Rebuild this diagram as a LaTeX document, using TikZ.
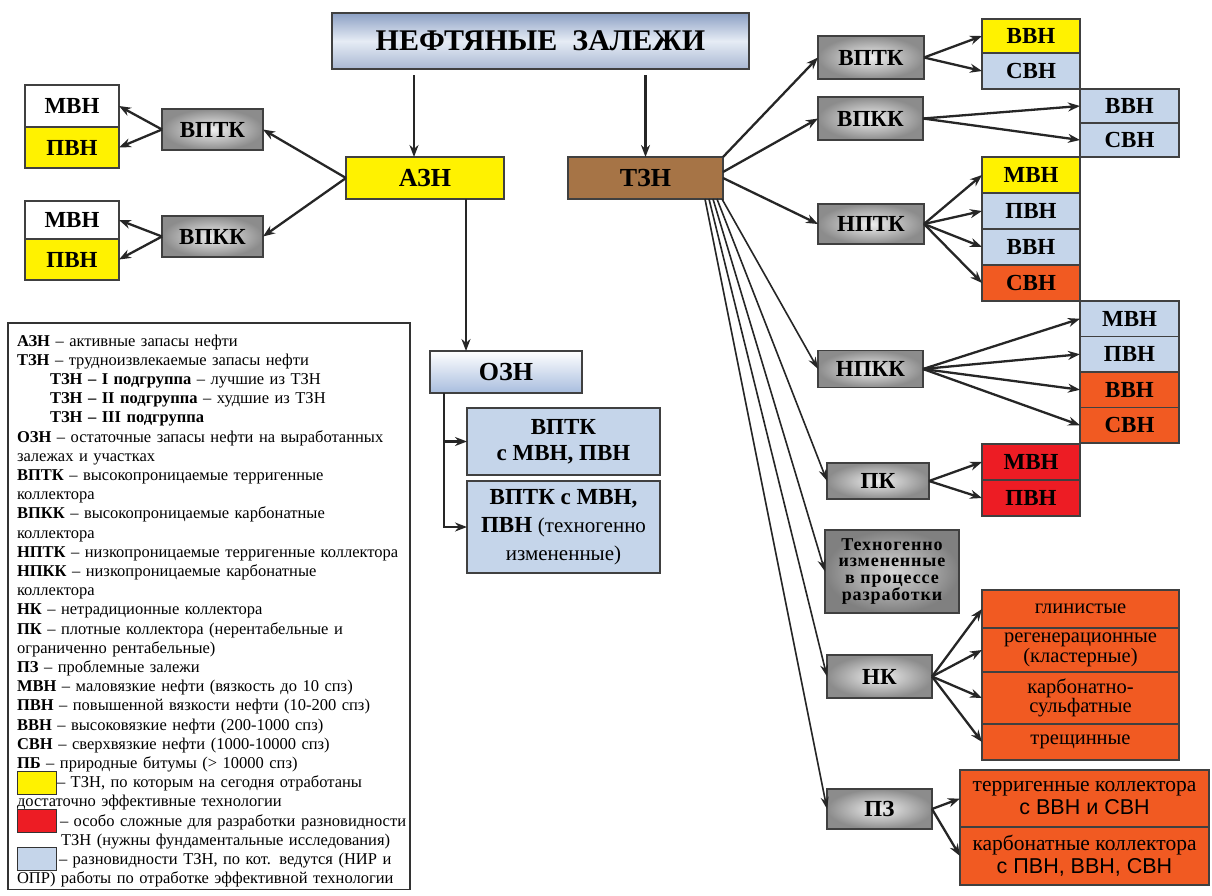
\documentclass[tikz,border=0pt]{standalone}
\usepackage{fontspec}
\setmainfont{Liberation Serif}
\newfontfamily\arialfont{Liberation Sans}
\usepackage{xcolor}
\usetikzlibrary{shapes,arrows.meta,positioning,calc}

\definecolor{azyellow}{RGB}{255,242,0}
\definecolor{tzblue}{RGB}{197,213,234}
\definecolor{tzorange}{RGB}{241,90,34}
\definecolor{tzred}{RGB}{237,28,36}
\definecolor{tzbrown}{RGB}{166,116,70}
\definecolor{titletop}{RGB}{140,160,196}
\definecolor{titlemid}{RGB}{230,236,245}
\definecolor{oznbottom}{RGB}{168,189,222}

\newcommand{\swatch}[1]{\raisebox{-6pt}[0pt][0pt]{\setlength\fboxsep{0pt}\setlength\fboxrule{1pt}\fcolorbox{black!80}{#1}{\rule{0pt}{22pt}\hspace{38pt}}}}

\begin{document}
\begin{tikzpicture}[x=1pt, y=-1pt,
    every node/.style={inner sep=0pt, outer sep=0pt, align=center},
    cell/.style={draw=black!75, line width=1.3pt, font=\bfseries\fontsize{23}{25}\selectfont},
    sz/.style 2 args={minimum width=#1pt, minimum height=#2pt},
    gbox/.style={cell, inner color=white!94!black, outer color=black!45},
    txt/.style={font=\fontsize{20.5}{17.5}\selectfont},
    arr/.style={-{Stealth[length=12pt,width=9pt]}, line width=2.3pt, black!85},
    fan/.style={-{Stealth[length=12pt,width=8pt]}, line width=1.6pt, black!85}]
\path[fill=white, use as bounding box] (0,0) rectangle (1212,895);

\node[cell, sz={417}{56}, top color=titletop, bottom color=titletop!75!white, middle color=titlemid, font=\bfseries\fontsize{30}{32}\selectfont] (title) at (540.5,41) {НЕФТЯНЫЕ\ \ ЗАЛЕЖИ};
\node[cell, sz={158}{42}, fill=azyellow, font=\bfseries\fontsize{26}{28}\selectfont] (azn) at (425,178) {АЗН};
\node[cell, sz={155}{42}, fill=tzbrown, font=\bfseries\fontsize{26}{28}\selectfont] (tzn) at (645.5,178) {ТЗН};
\node[cell, sz={152}{42}, top color=white, bottom color=oznbottom, font=\bfseries\fontsize{26}{28}\selectfont] (ozn) at (506,372) {ОЗН};
\node[cell, sz={193}{67}, fill=tzblue, font=\bfseries\fontsize{23}{26}\selectfont] (oznA) at (563.5,441.5) {ВПТК\\с МВН, ПВН};
\node[cell, sz={193}{92}, fill=tzblue, below=6pt of oznA, font=\bfseries\fontsize{23}{28}\selectfont] (oznB) {ВПТК с МВН,\\ПВН {\mdseries\fontsize{21}{28}\selectfont(техногенно}\\{\mdseries\fontsize{21}{28}\selectfont измененные)}};

\node[gbox, sz={101}{41}] (lvptk) at (212.5,129.5) {ВПТК};
\node[gbox, sz={101}{41}] (lvpkk) at (212.5,236.5) {ВПКК};
\node[cell, sz={94}{42}, fill=white] (lmvnA) at (72,106) {МВН};
\node[cell, sz={94}{41}, fill=azyellow, below=0pt of lmvnA] (lpvnA) {ПВН};
\node[cell, sz={94}{38}, fill=white] (lmvnB) at (72,220) {МВН};
\node[cell, sz={94}{41}, fill=azyellow, below=0pt of lmvnB] (lpvnB) {ПВН};

\node[gbox, sz={106}{43}] (rvptk) at (871,57.5) {ВПТК};
\node[gbox, sz={105}{43}] (rvpkk) at (870.5,118.5) {ВПКК};
\node[gbox, sz={106}{40}] (nptk) at (871,224) {НПТК};
\node[gbox, sz={105}{37}] (npkk) at (870.5,369) {НПКК};
\node[gbox, sz={102}{36}] (pk) at (878,481) {ПК};
\node[gbox, sz={134}{83}, inner color=black!15, outer color=black!50, font=\bfseries\fontsize{18}{16.5}\selectfont\addfontfeature{LetterSpace=5}] (tech) at (892,571.5) {Техногенно\\измененные\\в процессе\\разработки};
\node[gbox, sz={105}{43}] (nk) at (879.5,676.5) {НК};
\node[gbox, sz={105}{40}] (pz) at (879.5,809) {ПЗ};

\node[cell, sz={98}{34}, fill=azyellow] (vptkV) at (1031,36) {ВВН};
\node[cell, sz={98}{36}, fill=tzblue, below=0pt of vptkV] (vptkS) {СВН};
\node[cell, sz={99}{34}, fill=tzblue] (vpkkV) at (1129.5,106) {ВВН};
\node[cell, sz={99}{34}, fill=tzblue, below=0pt of vpkkV] (vpkkS) {СВН};

\node[cell, sz={98}{36}, fill=azyellow] (nptkM) at (1031,175) {МВН};
\node[cell, sz={98}{36}, fill=tzblue, below=0pt of nptkM] (nptkP) {ПВН};
\node[cell, sz={98}{36}, fill=tzblue, below=0pt of nptkP] (nptkV) {ВВН};
\node[cell, sz={98}{36}, fill=tzorange, below=0pt of nptkV] (nptkS) {СВН};

\node[cell, sz={99}{35.5}, fill=tzblue] (npkkM) at (1129.5,318.75) {МВН};
\node[cell, sz={99}{35.5}, fill=tzblue, below=0pt of npkkM] (npkkP) {ПВН};
\node[cell, sz={99}{35.5}, fill=tzorange, below=0pt of npkkP] (npkkV) {ВВН};
\node[cell, sz={99}{35.5}, fill=tzorange, below=0pt of npkkV] (npkkS) {СВН};

\node[cell, sz={98}{36}, fill=tzred] (pkM) at (1031,462) {МВН};
\node[cell, sz={98}{36}, fill=tzred, below=0pt of pkM] (pkP) {ПВН};

\node[cell, txt, sz={197}{38}, fill=tzorange] (nkG) at (1080.5,609) {глинистые};
\node[cell, txt, sz={197}{44}, fill=tzorange, below=0pt of nkG] (nkR) {регенерационные\\(кластерные)};
\node[cell, txt, sz={197}{52}, fill=tzorange, below=0pt of nkR] (nkK) {карбонатно-\\сульфатные};
\node[cell, txt, sz={197}{36}, fill=tzorange, below=0pt of nkK] (nkT) {трещинные};

\node[cell, sz={249}{57}, fill=tzorange, font=\fontsize{21.5}{23}\selectfont] (pzT) at (1084.5,798.5) {терригенные коллектора\\{\arialfont с ВВН и СВН}};
\node[cell, sz={249}{58}, fill=tzorange, font=\fontsize{21.5}{23}\selectfont, below=0pt of pzT] (pzK) {карбонатные коллектора\\{\arialfont с ПВН, ВВН, СВН}};

\node[draw=black!80, line width=1.2pt, anchor=north west, inner xsep=9pt, inner ysep=2pt, text width=384pt, align=left, font=\fontsize{16.5}{19.2}\selectfont] (legend) at (8,323) {%
\rule{0pt}{21pt}\textbf{АЗН} – активные запасы нефти\\
\textbf{ТЗН} – трудноизвлекаемые запасы нефти\\
\hspace*{2em}\textbf{ТЗН – I подгруппа} – лучшие из ТЗН\\
\hspace*{2em}\textbf{ТЗН – II подгруппа} – худшие из ТЗН\\
\hspace*{2em}\textbf{ТЗН – III подгруппа}\\
\textbf{ОЗН} – остаточные запасы нефти на выработанных\\
залежах и участках\\
\textbf{ВПТК} – высокопроницаемые терригенные\\
коллектора\\
\textbf{ВПКК} – высокопроницаемые карбонатные\\
коллектора\\
\textbf{НПТК} – низкопроницаемые терригенные коллектора\\
\textbf{НПКК} – низкопроницаемые карбонатные\\
коллектора\\
\textbf{НК} – нетрадиционные коллектора\\
\textbf{ПК} – плотные коллектора (нерентабельные и\\
ограниченно рентабельные)\\
\textbf{ПЗ} – проблемные залежи\\
\textbf{МВН} – маловязкие нефти (вязкость до 10 спз)\\
\textbf{ПВН} – повышенной вязкости нефти (10-200 спз)\\
\textbf{ВВН} – высоковязкие нефти (200-1000 спз)\\
\textbf{СВН} – сверхвязкие нефти (1000-10000 спз)\\
\textbf{ПБ} – природные битумы (> 10000 спз)\\
\swatch{azyellow}\makebox[344pt][s]{– ТЗН, по которым на сегодня отработаны}\\
достаточно эффективные технологии\\
\swatch{tzred}\hspace{3pt}\makebox[341pt][l]{– особо сложные для разработки разновидности}\\
\hspace*{44pt}ТЗН (нужны фундаментальные исследования)\\
\swatch{tzblue}\hspace{2pt}\makebox[342pt][s]{– разновидности ТЗН, по кот. ведутся (НИР и}\\
ОПР) работы по отработке эффективной технологии};

\draw[arr] ($(azn.north)+(-11,-82)$) -- ($(azn.north)+(-11,0)$);
\draw[arr] ($(tzn.north)+(0,-82)$) -- (tzn.north);
\draw[arr] (azn.west) -- (lvptk.east);
\draw[arr] (azn.west) -- (lvpkk.east);
\draw[arr] (lvptk.west) -- (lmvnA.east);
\draw[arr] (lvptk.west) -- (lpvnA.east);
\draw[arr] (lvpkk.west) -- (lmvnB.east);
\draw[arr] (lvpkk.west) -- (lpvnB.east);

\coordinate (oznin) at ($(ozn.north)+(-40,0)$);
\draw[arr] (azn.south -| oznin) -- (oznin);
\coordinate (oznout) at ($(ozn.south)+(-62,0)$);
\draw[arr] (oznout) |- (oznA.west);
\draw[arr] (oznout) |- (oznB.west);

\draw[arr] (tzn.north east) -- (rvptk.west);
\draw[arr] ([yshift=-15pt]tzn.north east) -- (rvpkk.west);
\draw[arr] (tzn.east) -- (nptk.west);
\draw[arr] (rvptk.east) -- (vptkV.west);
\draw[arr] (rvptk.east) -- (vptkS.west);
\draw[arr] (rvpkk.east) -- (vpkkV.west);
\draw[arr] (rvpkk.east) -- (vpkkS.west);
\foreach \t in {nptkM,nptkP,nptkV,nptkS}
  \draw[arr] (nptk.east) -- (\t.west);
\foreach \t in {npkkM,npkkP,npkkV,npkkS}
  \draw[arr] (npkk.east) -- (\t.west);
\foreach \t in {pkM,pkP}
  \draw[arr] (pk.east) -- (\t.west);
\foreach \t in {nkG,nkR,nkK,nkT}
  \draw[arr] (nk.east) -- (\t.west);
\foreach \t in {pzT,pzK}
  \draw[arr] (pz.east) -- (\t.west);
\foreach \s/\t in {18/pz,14/nk,10/tech,6/pk,1/npkk}
  \draw[fan] ([xshift=-\s pt]tzn.south east) -- (\t.west);
\end{tikzpicture}
\end{document}
